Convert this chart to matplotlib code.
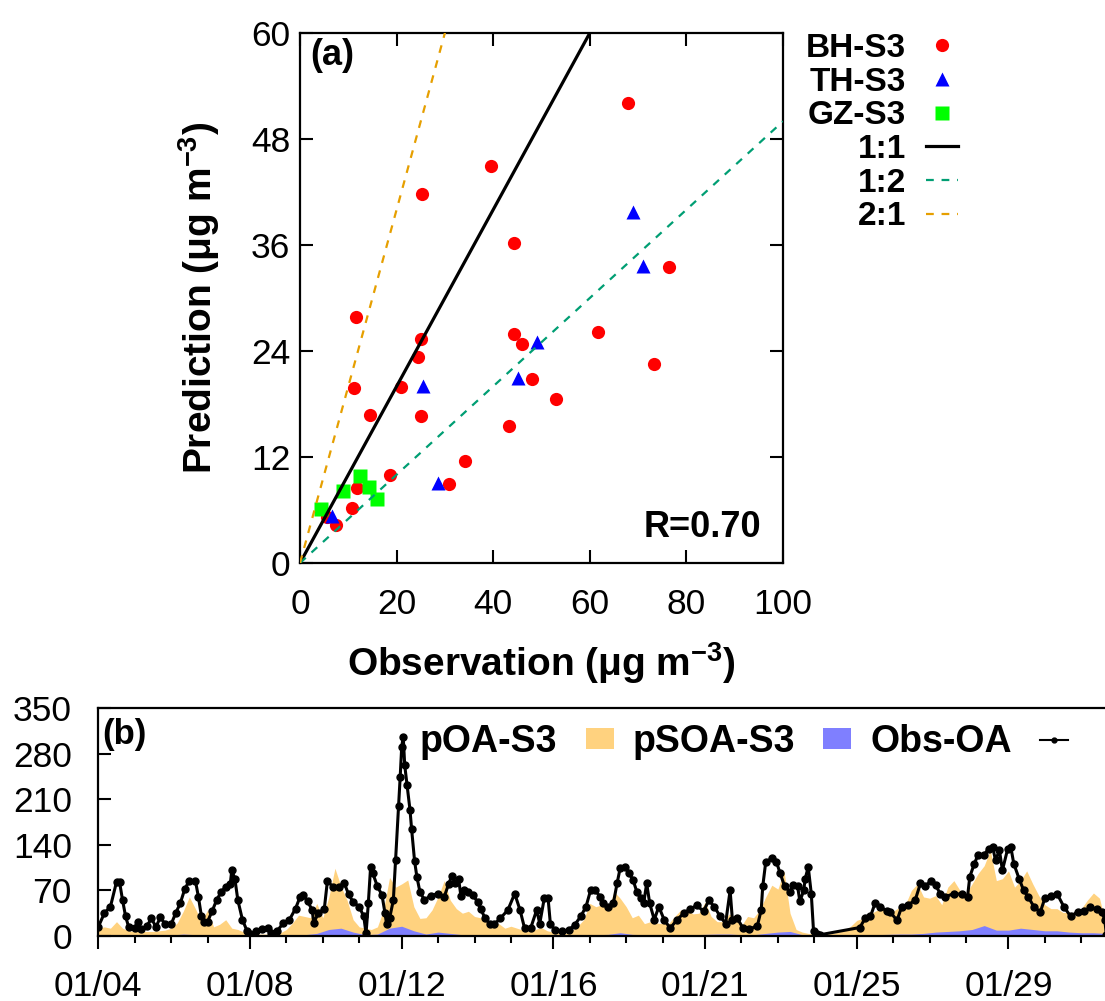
import matplotlib
matplotlib.use("Agg")
import numpy as np
import pandas as pd
import matplotlib.pyplot as plt
import matplotlib.dates as mdates
from matplotlib.patches import Patch
from matplotlib.lines import Line2D
from matplotlib.ticker import FixedLocator

plt.rcParams["font.family"] = ["Liberation Sans", "DejaVu Sans"]
plt.rcParams["mathtext.fontset"] = "custom"
plt.rcParams["mathtext.rm"] = "Liberation Sans:bold"
plt.rcParams["mathtext.default"] = "rm"

# ---- panel (a): observation vs prediction
bh_obs = [68.0, 76.5, 61.8, 73.2, 53.1, 11.6, 25.1, 24.5, 44.4, 45.9, 11.1, 20.9, 48.1,
          14.4, 25.1, 43.3, 34.2, 18.7, 30.9, 11.8, 10.7, 5.5, 7.4, 39.5, 25.2, 44.4]
bh_pred = [52.1, 33.5, 26.1, 22.5, 18.6, 27.8, 25.4, 23.3, 25.9, 24.8, 19.8, 19.9, 20.8,
           16.8, 16.6, 15.5, 11.6, 10.0, 8.9, 8.5, 6.2, 5.2, 4.3, 44.9, 41.8, 36.2]
th_obs = [68.9, 71.1, 49.1, 25.4, 45.1, 28.6, 6.6]
th_pred = [39.7, 33.6, 25.0, 20.0, 21.0, 9.1, 5.3]
gz_obs = [4.3, 8.8, 12.4, 14.3, 15.9]
gz_pred = [6.1, 8.2, 9.9, 8.6, 7.3]
ratio_labels = ["1:1", "1:2", "2:1"]
ratio_slopes = [1.0, 0.5, 2.0]
r_value = 0.70

# ---- panel (b): time series, hours after 01/04 08:00
obs_hours = [0, 4, 8, 12, 14, 16, 18, 20, 24, 26, 28, 32, 35, 38, 41, 44, 48, 51, 54, 57,
             60, 64, 66, 68, 70, 72, 75, 78, 81, 84, 87, 88, 90, 92, 95, 98, 100, 104, 108, 112,
             114, 118, 122, 126, 130, 133, 135, 138, 141, 142, 145, 149, 151, 155, 159, 162, 165, 168, 172, 175,
             176.5, 178, 179.5, 181, 184, 187, 189, 190, 192, 194.5, 196, 198, 199, 200, 201, 202, 203.5, 205.5, 206.5, 208.5,
             210, 212, 215, 219, 224, 228, 231, 233, 235, 237.5, 239, 241, 244, 247, 250, 252, 255, 258, 261, 265,
             270, 274.5, 278, 281, 285, 289, 291, 294, 296.5, 298, 301, 306, 310, 314, 318, 321.5, 324.5, 327.5, 331, 333,
             336, 339.5, 342, 344, 347.5, 350, 352.5, 355, 357.5, 359.5, 361.5, 363.5, 366.5, 369.5, 373, 377, 381.5, 386, 390, 394.5,
             399, 402.5, 406, 410, 413.5, 416.5, 418, 421, 425, 429, 434.5, 437, 438, 440, 444, 447, 449.5, 452.5, 456, 458,
             461, 462.5, 465, 466, 468, 470, 471.5, 474, 476, 502, 505.5, 509, 512, 515.5, 520, 522, 526.5, 529.5, 534, 538.5,
             542, 545, 549, 552, 555, 558, 564, 569.5, 573, 574.5, 577.5, 580, 584, 587, 589.5, 591.5, 594, 596, 599.5, 601.5,
             603.5, 607, 610, 613, 617, 621, 624, 628, 632, 636.5, 641, 645.5, 650, 654, 658.5, 661.5, 663.5, 664.5]
obs_oa = [14, 35, 45, 83, 83, 55, 30, 14, 12, 22, 10, 15, 27, 14, 29, 18, 18, 35, 50, 72,
          85, 85, 60, 30, 22, 22, 38, 55, 68, 75, 80, 101, 88, 55, 25, 8, 3, 7, 10, 12,
          4, 8, 20, 25, 42, 60, 63, 53, 40, 20, 35, 42, 84, 75, 75, 82, 64, 52, 45, 30,
          4, 50, 106, 96, 76, 63, 35, 19, 27, 55, 117, 200, 244, 290, 306, 262, 232, 193, 165, 115,
          91, 68, 55, 62, 65, 60, 80, 92, 82, 88, 62, 70, 68, 63, 52, 42, 27, 19, 18, 27,
          40, 65, 40, 12, 12, 40, 19, 58, 58, 19, 9, 7, 9, 17, 30, 45, 70, 70, 60, 50,
          45, 50, 81, 104, 106, 96, 86, 68, 58, 50, 81, 50, 25, 45, 25, 12, 25, 35, 41, 47,
          38, 55, 45, 30, 19, 70, 25, 28, 12, 10, 16, 40, 76, 114, 119, 114, 96, 76, 68, 78,
          76, 53, 70, 88, 106, 65, 7, 3, 2, 13, 27, 30, 50, 45, 38, 37, 24, 44, 48, 55,
          81, 76, 85, 78, 65, 60, 65, 64, 60, 91, 111, 125, 125, 134, 137, 116, 132, 101, 134, 137,
          111, 88, 70, 60, 44, 37, 58, 62, 65, 45, 30, 37, 38, 44, 41, 37, 25, 2]

# model output every 4 h (pOA) and every 8 h (pSOA)
poa_s3 = [12, 14, 12, 22, 12, 8, 7, 7, 7, 7, 8, 9, 12, 20, 38, 60, 42, 22, 40, 14,
          18, 25, 12, 10, 6, 4, 3, 3, 3, 4, 5, 10, 20, 32, 30, 28, 50, 28, 60, 104,
          76, 55, 25, 14, 12, 10, 14, 40, 90, 75, 80, 86, 45, 27, 28, 40, 60, 85, 55, 42,
          35, 38, 30, 28, 22, 20, 19, 12, 15, 12, 9, 7, 10, 13, 8, 6, 5, 4, 8, 15,
          25, 50, 45, 48, 42, 68, 58, 45, 28, 32, 19, 22, 20, 19, 19, 30, 40, 40, 34, 35,
          52, 30, 22, 22, 34, 26, 16, 30, 28, 40, 60, 78, 72, 100, 35, 10, 6, 4, 3, 3,
          4, 4, 6, 9, 15, 24, 27, 32, 38, 42, 40, 38, 44, 48, 70, 80, 60, 58, 62, 48,
          75, 85, 70, 65, 80, 96, 108, 132, 85, 88, 100, 75, 85, 100, 80, 62, 48, 42, 42, 36,
          37, 30, 42, 55, 66, 58, 20]
psoa_s3 = [2, 1.5, 1.5, 1, 1, 1, 1.5, 3, 2, 1.5, 1, 1, 0.5, 0.5, 0.5, 1, 2, 2, 4, 10,
           12, 6, 2, 3, 12, 15, 8, 3, 6, 4, 2, 2, 1.5, 1, 1, 1, 1, 1, 0.5, 1,
           1.5, 2, 2.5, 5, 2.5, 2, 1.5, 1.5, 2, 2, 2.5, 3, 3, 2, 2, 4, 6, 7, 2, 1,
           0.5, 0.5, 1, 1.5, 2, 2.5, 3, 3, 4, 6, 7, 8, 10, 16, 9, 9, 12, 10, 8, 8,
           6, 5, 5, 4]

t0 = pd.Timestamp("2014-01-04 08:00")
obs_time = t0 + pd.to_timedelta(obs_hours, unit="h")
poa_time = t0 + pd.to_timedelta(np.arange(len(poa_s3)) * 4, unit="h")
psoa_time = t0 + pd.to_timedelta(np.arange(len(psoa_s3)) * 8, unit="h")

W, H = 1105, 1001
fig = plt.figure(figsize=(W / 100, H / 100), dpi=100)

# ---------------- (a)
ax1 = fig.add_axes([300 / W, 1 - 563 / H, 483 / W, 530 / H])
ax1.plot(bh_obs, bh_pred, "o", color="#ff0000", ms=9.5, mec="none", label="BH-S3", zorder=3)
ax1.plot(th_obs, th_pred, "^", color="#0000ff", ms=10, mec="none", label="TH-S3", zorder=3)
ax1.plot(gz_obs, gz_pred, "s", color="#00ff00", ms=9.5, mec="none", label="GZ-S3", zorder=3)

line_x = np.array([0, 100])
styles = [dict(color="black", lw=2.3, ls="-"),
          dict(color="#009e73", lw=1.6, ls=(0, (3.5, 3.5))),
          dict(color="#e69f00", lw=1.6, ls=(0, (3.5, 3.5)))]
for lab, k, st in zip(ratio_labels, ratio_slopes, styles):
    ax1.plot(line_x, k * line_x, label=lab, zorder=4, **st)

ax1.set_xlim(0, 100)
ax1.set_ylim(0, 60)
ax1.set_xticks(range(0, 101, 20))
ax1.set_yticks(range(0, 61, 12))
ax1.tick_params(direction="in", length=9.5, width=1.5, top=True, right=True, labelsize=25.5)
ax1.tick_params(axis="x", pad=18)
ax1.tick_params(axis="y", pad=7)
for s in ax1.spines.values():
    s.set_linewidth(1.6)
ax1.set_xlabel("Observation (μg m$^{-3}$)", fontsize=28, fontweight="bold", labelpad=14)
ax1.set_ylabel("Prediction (μg m$^{-3}$)", fontsize=28, fontweight="bold", labelpad=21)
ax1.text(0.021, 0.99, "(a)", transform=ax1.transAxes, fontsize=26, fontweight="bold", va="top")
ax1.text(0.956, 0.049, f"R={r_value:.2f}", transform=ax1.transAxes, fontsize=26,
         fontweight="bold", ha="right", va="baseline")
ax1.legend(loc="upper right", bbox_to_anchor=(958 / W, 1 - 33 / H), bbox_transform=fig.transFigure,
           frameon=False, markerfirst=False, prop=dict(size=24, weight="bold"),
           handlelength=0.95, handletextpad=0.6, labelspacing=0.08, borderpad=0, borderaxespad=0)

# ---------------- (b)
ax2 = fig.add_axes([98.3 / W, 1 - 936 / H, 1010.3 / W, 228 / H])
ax2.fill_between(poa_time, 0, poa_s3, color="#ffd27f", lw=0, zorder=1)
ax2.fill_between(psoa_time, 0, psoa_s3, color="#7f7fff", lw=0, zorder=2)
ax2.plot(obs_time, obs_oa, "-o", color="black", lw=2.2, ms=5, zorder=3)

ax2.set_xlim(t0, t0 + pd.Timedelta(hours=666))
ax2.set_ylim(0, 350)
ax2.set_yticks(range(0, 351, 70))
major = [t0 + pd.Timedelta(hours=100 * k) for k in range(7)]
minor = [m + pd.Timedelta(hours=24 * j) for m in major for j in (1, 2, 3)]
ax2.xaxis.set_major_locator(FixedLocator(mdates.date2num(major)))
ax2.xaxis.set_minor_locator(FixedLocator(mdates.date2num(minor)))
ax2.xaxis.set_major_formatter(mdates.DateFormatter("%m/%d"))
ax2.tick_params(axis="y", direction="in", length=9.5, width=1.5, labelsize=25.5, pad=19)
ax2.tick_params(axis="x", which="major", direction="out", length=9.5, width=1.5, labelsize=25.5, pad=15)
ax2.tick_params(axis="x", which="minor", direction="out", length=5, width=1.5)
for s in ax2.spines.values():
    s.set_linewidth(1.6)
ax2.text(0.004, 0.956, "(b)", transform=ax2.transAxes, fontsize=25, fontweight="bold", va="top")

handles = [Patch(facecolor="#ffd27f", edgecolor="none"),
           Patch(facecolor="#7f7fff", edgecolor="none"),
           Line2D([], [], color="black", lw=1.5, marker="o", ms=3.5)]
ax2.legend(handles, ["pOA-S3", "pSOA-S3", "Obs-OA"], ncol=3, loc="upper left",
           bbox_to_anchor=(420 / W, 1 - 724 / H), bbox_transform=fig.transFigure,
           frameon=False, markerfirst=False, prop=dict(size=27, weight="bold"),
           handlelength=0.75, handleheight=0.5, handletextpad=0.75, columnspacing=0.5,
           borderpad=0, borderaxespad=0)

fig.savefig("out.png", dpi=100)
